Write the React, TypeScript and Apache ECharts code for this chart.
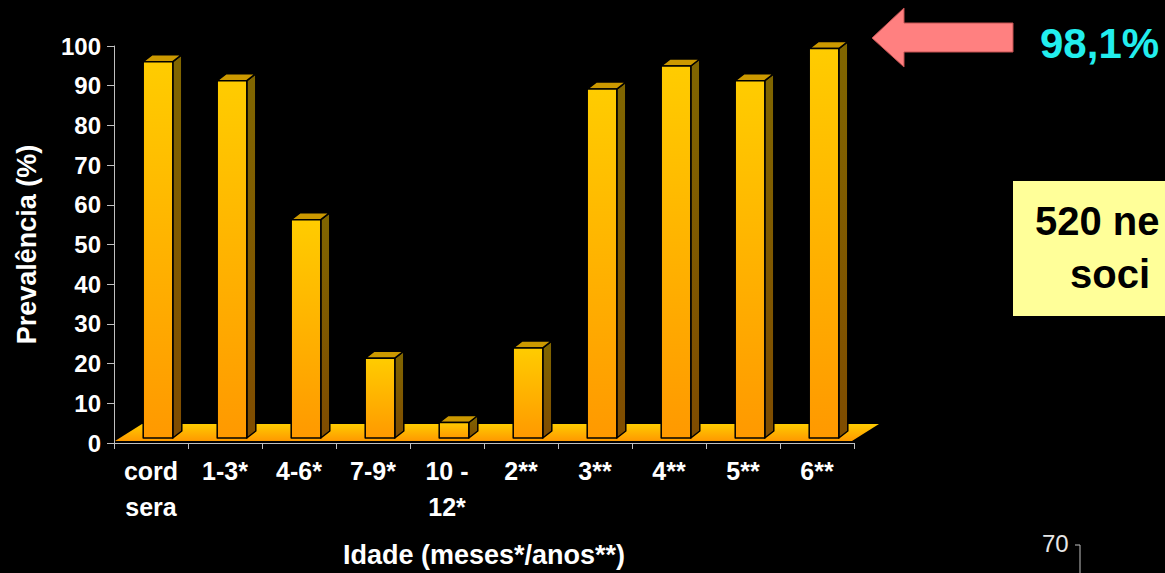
import React, { useEffect, useRef } from "react";
import * as echarts from "echarts";

// ---- data ----
const categories = ["cord\nsera", "1-3*", "4-6*", "7-9*", "10 -\n12*", "2**", "3**", "4**", "5**", "6**"];
const prevalence = [94.8, 90.0, 55.0, 20.1, 3.9, 22.7, 87.9, 93.7, 90.0, 98.1];
const yMin = 0;
const yMax = 100;
const yInterval = 10;
const xTitle = "Idade (meses*/anos**)";
const yTitle = "Prevalência (%)";
const highlightLabel = "98,1%";
const boxLines = ["520 ne", "soci"];
const pageNumber = "70";

const FONT = "'Liberation Sans', Arial, sans-serif";

export default function App() {
  const ref = useRef<HTMLDivElement>(null);

  useEffect(() => {
    if (!ref.current) return;
    const chart = echarts.init(ref.current, null, { renderer: "svg" });

    const frontGrad = () =>
      new echarts.graphic.LinearGradient(0, 0, 0, 1, [
        { offset: 0, color: "#FFCC00" },
        { offset: 1, color: "#FF9900" },
      ]);
    const sideGrad = () =>
      new echarts.graphic.LinearGradient(0, 0, 0, 1, [
        { offset: 0, color: "#806600" },
        { offset: 1, color: "#7F4C00" },
      ]);

    const option: any = {
      animation: false,
      backgroundColor: "#000000",
      grid: { left: 114, right: 311, top: 46, bottom: 128, containLabel: false },
      xAxis: {
        type: "category",
        data: categories,
        boundaryGap: true,
        axisLine: { show: true, lineStyle: { color: "#C0C0C0", width: 1 } },
        axisTick: { show: true, length: 6, lineStyle: { color: "#C0C0C0" } },
        axisLabel: {
          color: "#FFFFFF",
          fontSize: 25,
          fontWeight: "bold",
          fontFamily: FONT,
          lineHeight: 36,
          margin: 10,
          interval: 0,
        },
        name: xTitle,
        nameLocation: "middle",
        nameGap: 98,
        nameTextStyle: { color: "#FFFFFF", fontSize: 27, fontWeight: "bold", fontFamily: FONT },
        splitLine: { show: false },
        z: 5,
      },
      yAxis: {
        type: "value",
        min: yMin,
        max: yMax,
        interval: yInterval,
        axisLine: { show: true, lineStyle: { color: "#C0C0C0", width: 1 } },
        axisTick: { show: true, length: 7, lineStyle: { color: "#C0C0C0" } },
        axisLabel: {
          color: "#FFFFFF",
          fontSize: 24,
          fontWeight: "bold",
          fontFamily: FONT,
          margin: 13,
        },
        splitLine: { show: false },
        name: yTitle,
        nameLocation: "middle",
        nameRotate: 90,
        nameGap: 74,
        nameTextStyle: { color: "#FFFFFF", fontSize: 27, fontWeight: "bold", fontFamily: FONT },
      },
      series: [
        {
          type: "custom",
          name: "floor",
          coordinateSystem: "cartesian2d",
          data: [[0, 0]],
          z: 1,
          silent: true,
          renderItem: (params: any) => {
            const cs = params.coordSys;
            const fx0 = cs.x;
            const fx1 = cs.x + cs.width;
            const fy = cs.y + cs.height - 2;
            return {
              type: "polygon",
              shape: {
                points: [
                  [fx0 + 1, fy],
                  [fx0 + 28, fy - 17],
                  [fx1 + 25, fy - 17],
                  [fx1 - 2, fy],
                ],
              },
              style: {
                fill: new echarts.graphic.LinearGradient(0, 0, 0, 1, [
                  { offset: 0, color: "#FFCC00" },
                  { offset: 1, color: "#FF9900" },
                ]),
              },
            };
          },
        },
        {
          type: "custom",
          name: "Prevalência",
          coordinateSystem: "cartesian2d",
          data: prevalence.map((v, i) => [i, v]),
          z: 3,
          encode: { x: 0, y: 1 },
          renderItem: (params: any, api: any) => {
            const idx = api.value(0);
            const v = api.value(1);
            const base = api.coord([idx, 0]);
            const top = api.coord([idx, v]);
            const bw = api.size([1, 0])[0];
            const fw = bw * 0.4;
            const cx = base[0] + 7;
            const x0 = cx - fw / 2;
            const x1 = cx + fw / 2;
            const yb = base[1] - 5;
            const yt = top[1] - 5;
            const dx = 9;
            const dy = -7;
            const stroke = { stroke: "#000000", lineWidth: 1.5, lineJoin: "round" };
            return {
              type: "group",
              children: [
                {
                  type: "polygon",
                  shape: { points: [[x1, yb], [x1, yt], [x1 + dx, yt + dy], [x1 + dx, yb + dy]] },
                  style: { fill: sideGrad(), ...stroke },
                },
                {
                  type: "polygon",
                  shape: { points: [[x0, yt], [x0 + dx, yt + dy], [x1 + dx, yt + dy], [x1, yt]] },
                  style: { fill: "#CC9900", ...stroke },
                },
                {
                  type: "polygon",
                  shape: { points: [[x0, yb], [x0, yt], [x1, yt], [x1, yb]] },
                  style: { fill: frontGrad(), ...stroke },
                },
              ],
            };
          },
        },
      ],
      graphic: [
        {
          type: "polygon",
          shape: {
            points: [
              [872, 38],
              [904, 8],
              [904, 23],
              [1013, 23],
              [1013, 52],
              [904, 52],
              [904, 67],
            ],
          },
          style: { fill: "#FF8080", stroke: "#C05050", lineWidth: 1 },
        },
        {
          type: "text",
          x: 1040,
          y: 43,
          style: {
            text: highlightLabel,
            fill: "#22EEEE",
            font: `bold 42px ${FONT}`,
            verticalAlign: "middle",
            align: "left",
          },
        },
        {
          type: "rect",
          shape: { x: 1013, y: 181, width: 170, height: 135 },
          style: { fill: "#FFFF99" },
        },
        {
          type: "text",
          x: 1035,
          y: 221,
          style: {
            text: boxLines[0],
            fill: "#000000",
            font: `bold 40px ${FONT}`,
            verticalAlign: "middle",
            align: "left",
          },
        },
        {
          type: "text",
          x: 1070,
          y: 274,
          style: {
            text: boxLines[1],
            fill: "#000000",
            font: `bold 40px ${FONT}`,
            verticalAlign: "middle",
            align: "left",
          },
        },
        {
          type: "text",
          x: 1042,
          y: 543,
          style: {
            text: pageNumber,
            fill: "#E6E6E6",
            font: `24px ${FONT}`,
            verticalAlign: "middle",
            align: "left",
          },
        },
        {
          type: "polyline",
          shape: { points: [[1075, 545], [1080, 545], [1080, 573]] },
          style: { stroke: "#C0C0C0", lineWidth: 1, fill: "none" },
        },
      ],
    };

    chart.setOption(option);
    return () => chart.dispose();
  }, []);

  return (
    <div
      ref={ref}
      style={{ position: "absolute", left: 0, top: 0, width: 1165, height: 573, background: "#000" }}
    />
  );
}
